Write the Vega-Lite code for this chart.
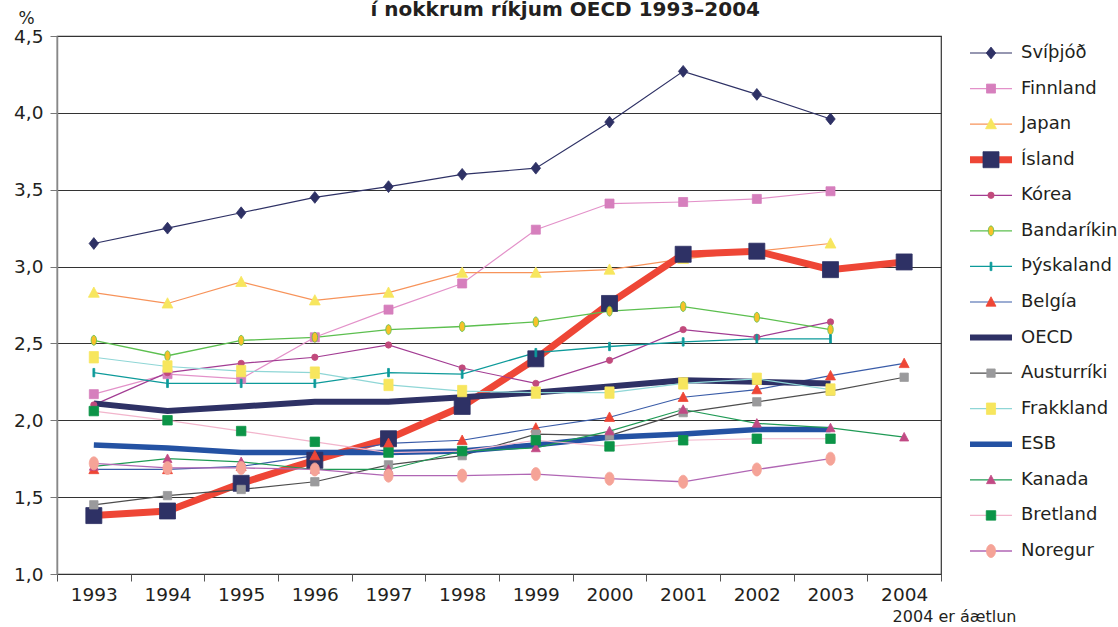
{
  "$schema": "https://vega.github.io/schema/vega-lite/v6.json",
  "padding": {"left": 12, "top": 0, "right": 0, "bottom": 0},
  "background": "white",
  "title": {"text": "í nokkrum ríkjum OECD 1993–2004", "font": "DejaVu Sans", "fontSize": 20, "fontWeight": "bold", "color": "#231f20", "anchor": "middle", "offset": -12},
  "config": {
    "font": "DejaVu Sans",
    "view": {"stroke": "#333", "strokeWidth": 1.2},
    "axis": {"labelColor": "#231f20", "titleColor": "#231f20", "labelFont": "DejaVu Sans", "titleFont": "DejaVu Sans"}
  },
  "datasets": {
    "d": [
      {"s":"Svíþjóð","y":"1993","v":3.15},{"s":"Svíþjóð","y":"1994","v":3.25},{"s":"Svíþjóð","y":"1995","v":3.35},{"s":"Svíþjóð","y":"1996","v":3.45},{"s":"Svíþjóð","y":"1997","v":3.52},{"s":"Svíþjóð","y":"1998","v":3.60},{"s":"Svíþjóð","y":"1999","v":3.64},{"s":"Svíþjóð","y":"2000","v":3.94},{"s":"Svíþjóð","y":"2001","v":4.27},{"s":"Svíþjóð","y":"2002","v":4.12},{"s":"Svíþjóð","y":"2003","v":3.96},
      {"s":"Finnland","y":"1993","v":2.17},{"s":"Finnland","y":"1994","v":2.30},{"s":"Finnland","y":"1995","v":2.27},{"s":"Finnland","y":"1996","v":2.54},{"s":"Finnland","y":"1997","v":2.72},{"s":"Finnland","y":"1998","v":2.89},{"s":"Finnland","y":"1999","v":3.24},{"s":"Finnland","y":"2000","v":3.41},{"s":"Finnland","y":"2001","v":3.42},{"s":"Finnland","y":"2002","v":3.44},{"s":"Finnland","y":"2003","v":3.49},
      {"s":"Japan","y":"1993","v":2.83},{"s":"Japan","y":"1994","v":2.76},{"s":"Japan","y":"1995","v":2.90},{"s":"Japan","y":"1996","v":2.78},{"s":"Japan","y":"1997","v":2.83},{"s":"Japan","y":"1998","v":2.96},{"s":"Japan","y":"1999","v":2.96},{"s":"Japan","y":"2000","v":2.98},{"s":"Japan","y":"2001","v":3.05},{"s":"Japan","y":"2002","v":3.10},{"s":"Japan","y":"2003","v":3.15},
      {"s":"Ísland","y":"1993","v":1.38},{"s":"Ísland","y":"1994","v":1.41},{"s":"Ísland","y":"1995","v":1.59},{"s":"Ísland","y":"1996","v":1.74},{"s":"Ísland","y":"1997","v":1.88},{"s":"Ísland","y":"1998","v":2.09},{"s":"Ísland","y":"1999","v":2.40},{"s":"Ísland","y":"2000","v":2.76},{"s":"Ísland","y":"2001","v":3.08},{"s":"Ísland","y":"2002","v":3.10},{"s":"Ísland","y":"2003","v":2.98},{"s":"Ísland","y":"2004","v":3.03},
      {"s":"Kórea","y":"1993","v":2.10},{"s":"Kórea","y":"1994","v":2.31},{"s":"Kórea","y":"1995","v":2.37},{"s":"Kórea","y":"1996","v":2.41},{"s":"Kórea","y":"1997","v":2.49},{"s":"Kórea","y":"1998","v":2.34},{"s":"Kórea","y":"1999","v":2.24},{"s":"Kórea","y":"2000","v":2.39},{"s":"Kórea","y":"2001","v":2.59},{"s":"Kórea","y":"2002","v":2.54},{"s":"Kórea","y":"2003","v":2.64},
      {"s":"Bandaríkin","y":"1993","v":2.52},{"s":"Bandaríkin","y":"1994","v":2.42},{"s":"Bandaríkin","y":"1995","v":2.52},{"s":"Bandaríkin","y":"1996","v":2.54},{"s":"Bandaríkin","y":"1997","v":2.59},{"s":"Bandaríkin","y":"1998","v":2.61},{"s":"Bandaríkin","y":"1999","v":2.64},{"s":"Bandaríkin","y":"2000","v":2.71},{"s":"Bandaríkin","y":"2001","v":2.74},{"s":"Bandaríkin","y":"2002","v":2.67},{"s":"Bandaríkin","y":"2003","v":2.59},
      {"s":"Þýskaland","y":"1993","v":2.31},{"s":"Þýskaland","y":"1994","v":2.24},{"s":"Þýskaland","y":"1995","v":2.24},{"s":"Þýskaland","y":"1996","v":2.24},{"s":"Þýskaland","y":"1997","v":2.31},{"s":"Þýskaland","y":"1998","v":2.30},{"s":"Þýskaland","y":"1999","v":2.44},{"s":"Þýskaland","y":"2000","v":2.48},{"s":"Þýskaland","y":"2001","v":2.51},{"s":"Þýskaland","y":"2002","v":2.53},{"s":"Þýskaland","y":"2003","v":2.53},
      {"s":"Belgía","y":"1993","v":1.68},{"s":"Belgía","y":"1994","v":1.68},{"s":"Belgía","y":"1995","v":1.70},{"s":"Belgía","y":"1996","v":1.77},{"s":"Belgía","y":"1997","v":1.85},{"s":"Belgía","y":"1998","v":1.87},{"s":"Belgía","y":"1999","v":1.95},{"s":"Belgía","y":"2000","v":2.02},{"s":"Belgía","y":"2001","v":2.15},{"s":"Belgía","y":"2002","v":2.20},{"s":"Belgía","y":"2003","v":2.29},{"s":"Belgía","y":"2004","v":2.37},
      {"s":"OECD","y":"1993","v":2.11},{"s":"OECD","y":"1994","v":2.06},{"s":"OECD","y":"1995","v":2.09},{"s":"OECD","y":"1996","v":2.12},{"s":"OECD","y":"1997","v":2.12},{"s":"OECD","y":"1998","v":2.15},{"s":"OECD","y":"1999","v":2.18},{"s":"OECD","y":"2000","v":2.22},{"s":"OECD","y":"2001","v":2.26},{"s":"OECD","y":"2002","v":2.25},{"s":"OECD","y":"2003","v":2.24},
      {"s":"Austurríki","y":"1993","v":1.45},{"s":"Austurríki","y":"1994","v":1.51},{"s":"Austurríki","y":"1995","v":1.55},{"s":"Austurríki","y":"1996","v":1.60},{"s":"Austurríki","y":"1997","v":1.71},{"s":"Austurríki","y":"1998","v":1.77},{"s":"Austurríki","y":"1999","v":1.91},{"s":"Austurríki","y":"2000","v":1.90},{"s":"Austurríki","y":"2001","v":2.05},{"s":"Austurríki","y":"2002","v":2.12},{"s":"Austurríki","y":"2003","v":2.19},{"s":"Austurríki","y":"2004","v":2.28},
      {"s":"Frakkland","y":"1993","v":2.41},{"s":"Frakkland","y":"1994","v":2.35},{"s":"Frakkland","y":"1995","v":2.32},{"s":"Frakkland","y":"1996","v":2.31},{"s":"Frakkland","y":"1997","v":2.23},{"s":"Frakkland","y":"1998","v":2.19},{"s":"Frakkland","y":"1999","v":2.18},{"s":"Frakkland","y":"2000","v":2.18},{"s":"Frakkland","y":"2001","v":2.24},{"s":"Frakkland","y":"2002","v":2.27},{"s":"Frakkland","y":"2003","v":2.20},
      {"s":"ESB","y":"1993","v":1.84},{"s":"ESB","y":"1994","v":1.82},{"s":"ESB","y":"1995","v":1.79},{"s":"ESB","y":"1996","v":1.79},{"s":"ESB","y":"1997","v":1.79},{"s":"ESB","y":"1998","v":1.80},{"s":"ESB","y":"1999","v":1.84},{"s":"ESB","y":"2000","v":1.89},{"s":"ESB","y":"2001","v":1.91},{"s":"ESB","y":"2002","v":1.94},{"s":"ESB","y":"2003","v":1.94},
      {"s":"Kanada","y":"1993","v":1.70},{"s":"Kanada","y":"1994","v":1.75},{"s":"Kanada","y":"1995","v":1.73},{"s":"Kanada","y":"1996","v":1.68},{"s":"Kanada","y":"1997","v":1.68},{"s":"Kanada","y":"1998","v":1.80},{"s":"Kanada","y":"1999","v":1.82},{"s":"Kanada","y":"2000","v":1.93},{"s":"Kanada","y":"2001","v":2.07},{"s":"Kanada","y":"2002","v":1.98},{"s":"Kanada","y":"2003","v":1.95},{"s":"Kanada","y":"2004","v":1.89},
      {"s":"Bretland","y":"1993","v":2.06},{"s":"Bretland","y":"1994","v":2.00},{"s":"Bretland","y":"1995","v":1.93},{"s":"Bretland","y":"1996","v":1.86},{"s":"Bretland","y":"1997","v":1.79},{"s":"Bretland","y":"1998","v":1.80},{"s":"Bretland","y":"1999","v":1.87},{"s":"Bretland","y":"2000","v":1.83},{"s":"Bretland","y":"2001","v":1.87},{"s":"Bretland","y":"2002","v":1.88},{"s":"Bretland","y":"2003","v":1.88},
      {"s":"Noregur","y":"1993","v":1.72},{"s":"Noregur","y":"1994","v":1.69},{"s":"Noregur","y":"1995","v":1.69},{"s":"Noregur","y":"1996","v":1.68},{"s":"Noregur","y":"1997","v":1.64},{"s":"Noregur","y":"1998","v":1.64},{"s":"Noregur","y":"1999","v":1.65},{"s":"Noregur","y":"2000","v":1.62},{"s":"Noregur","y":"2001","v":1.60},{"s":"Noregur","y":"2002","v":1.68},{"s":"Noregur","y":"2003","v":1.75}
    ],
    "leg": [
      {"s":"Svíþjóð"},{"s":"Finnland"},{"s":"Japan"},{"s":"Ísland"},{"s":"Kórea"},{"s":"Bandaríkin"},{"s":"Þýskaland"},{"s":"Belgía"},{"s":"OECD"},{"s":"Austurríki"},{"s":"Frakkland"},{"s":"ESB"},{"s":"Kanada"},{"s":"Bretland"},{"s":"Noregur"}
    ]
  },
  "hconcat": [
    {
      "width": 884,
      "height": 538,
      "data": {"name": "d"},
      "layer": [
        {
          "mark": {"type": "line", "interpolate": "linear"},
          "encoding": {
            "x": {"field": "y", "type": "ordinal", "bandPosition": 0.5,
              "scale": {"type": "band", "paddingInner": 0, "paddingOuter": 0},
              "axis": {"title": "2004 er áætlun", "titleX": 897, "titleY": 47, "titleAlign": "center", "titleBaseline": "alphabetic", "titleFontSize": 16, "titleFontWeight": "normal",
                "labelAngle": 0, "labelFontSize": 18.5, "tickBand": "extent", "tickSize": 7, "tickColor": "#555", "domain": false, "grid": false, "labelPadding": 4}},
            "y": {"field": "v", "type": "quantitative",
              "scale": {"domain": [1, 4.5], "nice": false, "zero": false},
              "axis": {"values": [1, 1.5, 2, 2.5, 3, 3.5, 4, 4.5], "labelExpr": "replace(format(datum.value, '.1f'), '.', ',')",
                "title": "%", "titleAngle": 0, "titleX": -31, "titleY": -18, "titleAlign": "center", "titleBaseline": "middle", "titleFontSize": 17, "titleFontWeight": "normal",
                "labelFontSize": 18.5, "labelPadding": 7, "tickSize": 7, "tickColor": "#777", "domainColor": "#888", "domainWidth": 1.5,
                "grid": true, "gridColor": "#333", "gridWidth": 1.2, "labelFlush": false}},
            "color": {"field": "s", "type": "nominal", "legend": null,
              "scale": {"domain": ["Svíþjóð","Finnland","Japan","Ísland","Kórea","Bandaríkin","Þýskaland","Belgía","OECD","Austurríki","Frakkland","ESB","Kanada","Bretland","Noregur"],
                "range": ["#2e3165","#e391c9","#f7935a","#ee4636","#a23c93","#5cbf4f","#0d9a9a","#3a5ca8","#2e3165","#4d4d4d","#8fd6d6","#2452a3","#1f9a55","#f2b5cc","#b066b4"]}},
            "strokeWidth": {"field": "s", "type": "ordinal", "legend": null,
              "scale": {"type": "ordinal", "domain": ["Svíþjóð","Finnland","Japan","Ísland","Kórea","Bandaríkin","Þýskaland","Belgía","OECD","Austurríki","Frakkland","ESB","Kanada","Bretland","Noregur"],
                "range": [1.2,1.2,1.2,7,1.2,1.3,1.3,1.2,6,1.2,1.2,5.5,1.2,1.2,1.3]}}
          }
        },
        {
          "transform": [{"filter": "datum.s !== 'OECD' && datum.s !== 'ESB'"}],
          "mark": {"type": "point", "filled": true, "opacity": 1, "strokeWidth": 0.8},
          "encoding": {
            "x": {"field": "y", "type": "ordinal", "bandPosition": 0.5},
            "y": {"field": "v", "type": "quantitative"},
            "shape": {"field": "s", "type": "nominal", "legend": null,
              "scale": {"domain": ["Svíþjóð","Finnland","Japan","Ísland","Kórea","Bandaríkin","Þýskaland","Belgía","Austurríki","Frakkland","Kanada","Bretland","Noregur"],
                "range": ["M0,-1L0.8,0L0,1L-0.8,0Z","square","M0,-1L0.95,0.8L-0.95,0.8Z","square","circle","M0,-1A0.55,1,0,1,1,0,1A0.55,1,0,1,1,0,-1Z","M-0.22,-1H0.22V1H-0.22Z","M0,-1L0.95,0.8L-0.95,0.8Z","square","M-0.8,-1H0.8V1H-0.8Z","M0,-1L0.95,0.8L-0.95,0.8Z","square","M0,-1A0.7,1,0,1,1,0,1A0.7,1,0,1,1,0,-1Z"]}},
            "fill": {"field": "s", "type": "nominal", "legend": null,
              "scale": {"domain": ["Svíþjóð","Finnland","Japan","Ísland","Kórea","Bandaríkin","Þýskaland","Belgía","Austurríki","Frakkland","Kanada","Bretland","Noregur"],
                "range": ["#2e3165","#d67fbd","#f7e65e","#2e3165","#c14a7c","#f7c229","#0d9a9a","#ee4636","#9a9a9c","#f7e65e","#c14a84","#0c9447","#f5a397"]}},
            "stroke": {"field": "s", "type": "nominal", "legend": null,
              "scale": {"domain": ["Svíþjóð","Finnland","Japan","Ísland","Kórea","Bandaríkin","Þýskaland","Belgía","Austurríki","Frakkland","Kanada","Bretland","Noregur"],
                "range": ["#2e3165","#d67fbd","#f7e65e","#2e3165","#c14a7c","#5cbf4f","#0d9a9a","#ee4636","#9a9a9c","#f7e65e","#c14a84","#0c9447","#f5a397"]}},
            "size": {"field": "s", "type": "ordinal", "legend": null,
              "scale": {"type": "ordinal", "domain": ["Svíþjóð","Finnland","Japan","Ísland","Kórea","Bandaríkin","Þýskaland","Belgía","Austurríki","Frakkland","Kanada","Bretland","Noregur"],
                "range": [140,81,130,256,40,100,70,110,70,130,90,90,170]}}
          }
        }
      ]
    },
    {
      "width": 140,
      "height": 532,
      "view": {"stroke": null},
      "data": {"name": "leg"},
      "layer": [
        {
          "mark": {"type": "rule"},
          "encoding": {
            "x": {"datum": 0, "type": "quantitative", "scale": {"domain": [0, 140], "nice": false}, "axis": null},
            "x2": {"datum": 42},
            "y": {"field": "s", "type": "nominal", "sort": null, "axis": null,
              "scale": {"type": "point", "padding": 0.478, "domain": ["Svíþjóð","Finnland","Japan","Ísland","Kórea","Bandaríkin","Þýskaland","Belgía","OECD","Austurríki","Frakkland","ESB","Kanada","Bretland","Noregur"]}},
            "color": {"field": "s", "type": "nominal", "legend": null,
              "scale": {"domain": ["Svíþjóð","Finnland","Japan","Ísland","Kórea","Bandaríkin","Þýskaland","Belgía","OECD","Austurríki","Frakkland","ESB","Kanada","Bretland","Noregur"],
                "range": ["#6a6c92","#eeaad8","#f9ad80","#ee4636","#a23c93","#7acc6e","#2aa6a6","#5a78b8","#2e3165","#555555","#a8e0e0","#2452a3","#4fb07a","#f2b5cc","#c08ac4"]}},
            "strokeWidth": {"field": "s", "type": "ordinal", "legend": null,
              "scale": {"type": "ordinal", "domain": ["Svíþjóð","Finnland","Japan","Ísland","Kórea","Bandaríkin","Þýskaland","Belgía","OECD","Austurríki","Frakkland","ESB","Kanada","Bretland","Noregur"],
                "range": [1.5,1.5,1.5,5,1.5,1.5,1.5,1.5,5,1.5,1.5,5,1.5,1.5,1.5]}}
          }
        },
        {
          "transform": [{"filter": "datum.s !== 'OECD' && datum.s !== 'ESB'"}],
          "mark": {"type": "point", "filled": true, "opacity": 1, "strokeWidth": 0.8},
          "encoding": {
            "x": {"datum": 21, "type": "quantitative"},
            "y": {"field": "s", "type": "nominal", "sort": null},
            "shape": {"field": "s", "type": "nominal", "legend": null,
              "scale": {"domain": ["Svíþjóð","Finnland","Japan","Ísland","Kórea","Bandaríkin","Þýskaland","Belgía","Austurríki","Frakkland","Kanada","Bretland","Noregur"],
                "range": ["M0,-1L0.8,0L0,1L-0.8,0Z","square","M0,-1L0.95,0.8L-0.95,0.8Z","square","circle","M0,-1A0.55,1,0,1,1,0,1A0.55,1,0,1,1,0,-1Z","M-0.22,-1H0.22V1H-0.22Z","M0,-1L0.95,0.8L-0.95,0.8Z","square","M-0.8,-1H0.8V1H-0.8Z","M0,-1L0.95,0.8L-0.95,0.8Z","square","M0,-1A0.7,1,0,1,1,0,1A0.7,1,0,1,1,0,-1Z"]}},
            "fill": {"field": "s", "type": "nominal", "legend": null,
              "scale": {"domain": ["Svíþjóð","Finnland","Japan","Ísland","Kórea","Bandaríkin","Þýskaland","Belgía","Austurríki","Frakkland","Kanada","Bretland","Noregur"],
                "range": ["#2e3165","#d67fbd","#f7e65e","#2e3165","#c14a7c","#f7c229","#0d9a9a","#ee4636","#9a9a9c","#f7e65e","#c14a84","#0c9447","#f5a397"]}},
            "stroke": {"field": "s", "type": "nominal", "legend": null,
              "scale": {"domain": ["Svíþjóð","Finnland","Japan","Ísland","Kórea","Bandaríkin","Þýskaland","Belgía","Austurríki","Frakkland","Kanada","Bretland","Noregur"],
                "range": ["#2e3165","#d67fbd","#f7e65e","#2e3165","#c14a7c","#5cbf4f","#0d9a9a","#ee4636","#9a9a9c","#f7e65e","#c14a84","#0c9447","#f5a397"]}},
            "size": {"field": "s", "type": "ordinal", "legend": null,
              "scale": {"type": "ordinal", "domain": ["Svíþjóð","Finnland","Japan","Ísland","Kórea","Bandaríkin","Þýskaland","Belgía","Austurríki","Frakkland","Kanada","Bretland","Noregur"],
                "range": [60,81,120,256,45,80,60,110,81,100,90,70,100]}}
          }
        },
        {
          "mark": {"type": "text", "align": "left", "baseline": "middle", "fontSize": 18, "color": "#231f20", "font": "DejaVu Sans"},
          "encoding": {
            "x": {"datum": 51, "type": "quantitative"},
            "y": {"field": "s", "type": "nominal", "sort": null},
            "text": {"field": "s"}
          }
        }
      ]
    }
  ],
  "spacing": 29,
  "bounds": "flush"
}
